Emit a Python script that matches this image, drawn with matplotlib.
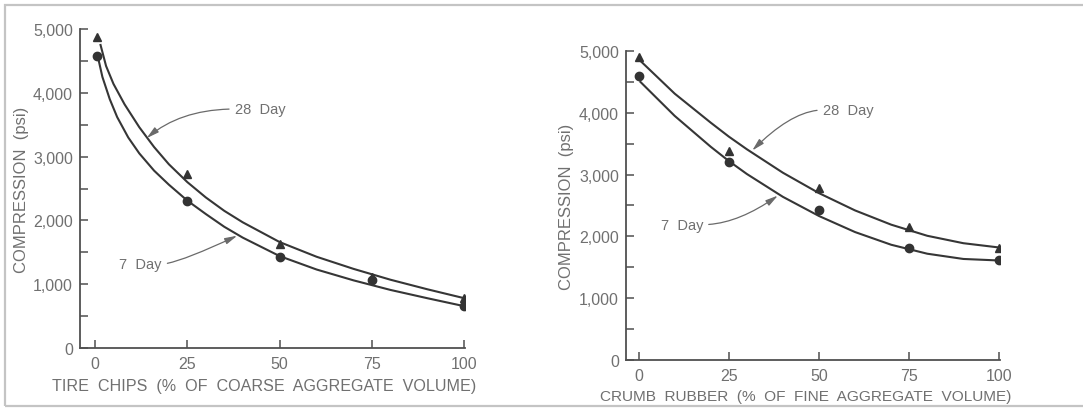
import matplotlib
matplotlib.use('Agg')
import matplotlib.pyplot as plt
from matplotlib.patches import Rectangle

# measured points
mark_x = [0.5, 25, 50, 75, 100]
tire_28 = [4880, 2730, 1630, 1110, 780]
tire_7 = [4580, 2300, 1430, 1060, 660]
crumb_x = [0, 25, 50, 75, 100]
crumb_28 = [4900, 3380, 2780, 2150, 1820]
crumb_7 = [4600, 3200, 2420, 1820, 1620]

# fitted curves
tire_28_cx = [1.5, 3, 5, 8, 12, 16, 20, 25, 30, 35, 40, 50, 60, 70, 80, 90, 100]
tire_28_cy = [4750, 4420, 4140, 3820, 3460, 3150, 2880, 2600, 2360, 2150, 1970, 1660, 1430, 1240, 1070, 920, 780]
tire_7_cx = [0.8, 2, 4, 6, 9, 12, 16, 20, 25, 30, 35, 40, 50, 60, 70, 80, 90, 100]
tire_7_cy = [4560, 4250, 3900, 3620, 3300, 3050, 2780, 2560, 2310, 2100, 1900, 1730, 1440, 1230, 1060, 910, 780, 655]
crumb_28_cx = [0.5, 10, 20, 25, 30, 40, 50, 60, 70, 80, 90, 100]
crumb_28_cy = [4840, 4310, 3840, 3615, 3410, 3030, 2700, 2420, 2190, 2010, 1890, 1820]
crumb_7_cx = [0.5, 10, 20, 25, 30, 40, 50, 60, 70, 80, 90, 100]
crumb_7_cy = [4500, 3950, 3450, 3220, 3010, 2640, 2330, 2070, 1865, 1720, 1635, 1610]

xticks = [0, 25, 50, 75, 100]
yticks = [0, 1000, 2000, 3000, 4000, 5000]
ylabels = ['0', '1,000', '2,000', '3,000', '4,000', '5,000']

plt.rcParams['font.family'] = ['Liberation Sans', 'DejaVu Sans']
txt = '#707070'
ink = '#363636'

fig = plt.figure(figsize=(10.83, 4.10), dpi=100)
fig.patches.append(Rectangle((5/1083, 1-407/410), 1.1, 401/410, transform=fig.transFigure,
                             fill=False, edgecolor='#c4c4c4', linewidth=1.6))

ax1 = fig.add_axes([0.0739, 0.1488, 0.3559, 0.778])
ax2 = fig.add_axes([0.578, 0.1195, 0.3458, 0.7537])


def style(ax, xlab, xsize, xmin, lx, ly, xlx, xly):
    ax.set_xlim(xmin, 100.3)
    ax.set_ylim(0, 5000)
    ax.set_xticks(xticks, [str(t) for t in xticks])
    ax.set_yticks(yticks, ylabels)
    ax.set_yticks(range(500, 5000, 1000), minor=True)
    for s in ['top', 'right']:
        ax.spines[s].set_visible(False)
    for s in ['left', 'bottom']:
        ax.spines[s].set_color('#505050')
        ax.spines[s].set_linewidth(1.3)
    ax.tick_params(direction='in', length=6, width=1.1, color='#505050',
                   labelcolor=txt, labelsize=11.5)
    ax.tick_params(which='minor', direction='in', length=6, width=1.1, color='#505050')
    ax.tick_params(axis='y', pad=5)
    ax.tick_params(axis='x', pad=6)
    ax.set_ylabel('COMPRESSION  (psi)', color=txt, fontsize=12)
    ax.set_xlabel(xlab, color=txt, fontsize=xsize)
    ax.yaxis.set_label_coords(lx, ly)
    ax.xaxis.set_label_coords(xlx, xly)
    ax.xaxis.label.set_va('center')
    ax.yaxis.label.set_va('center')


def note(ax, label, tip, pos, ha, angb):
    ax.annotate(label, xy=tip, xytext=pos, ha=ha, va='center', color=txt, fontsize=10.5,
                arrowprops=dict(arrowstyle='-|>,head_length=0.7,head_width=0.18',
                                color='#6a6a6a', lw=0.9, shrinkA=2, shrinkB=0,
                                relpos=(0 if ha == 'left' else 1, 0.5),
                                connectionstyle='angle3,angleA=0,angleB=%d' % angb))


# left: tire chips
ax1.plot(tire_28_cx, tire_28_cy, color=ink, lw=1.5)
ax1.plot(tire_7_cx, tire_7_cy, color=ink, lw=1.5)
ax1.plot(mark_x, tire_28, '^', color='#333333', ms=6)
ax1.plot(mark_x, tire_7, 'o', color='#333333', ms=6)
style(ax1, 'TIRE  CHIPS  (%  OF  COARSE  AGGREGATE  VOLUME)', 11.6, -4.05, -0.151, 0.5, 0.477, -0.119)
note(ax1, '28  Day', (14, 3290), (37.8, 3746), 'left', 40)
note(ax1, '7  Day', (38.5, 1760), (18.1, 1317), 'right', 25)

# right: crumb rubber
ax2.plot(crumb_28_cx, crumb_28_cy, color=ink, lw=1.5)
ax2.plot(crumb_7_cx, crumb_7_cy, color=ink, lw=1.5)
ax2.plot(crumb_x, crumb_28, '^', color='#333333', ms=6)
ax2.plot(crumb_x, crumb_7, 'o', color='#333333', ms=6)
style(ax2, 'CRUMB  RUBBER  (%  OF  FINE  AGGREGATE  VOLUME)', 11.1, -3.5, -0.158, 0.5, 0.481, -0.1165)
note(ax2, '28  Day', (31.5, 3390), (51.0, 4045), 'left', 45)
note(ax2, '7  Day', (38.6, 2660), (17.9, 2190), 'right', 35)

fig.savefig('out.png', dpi=100)
